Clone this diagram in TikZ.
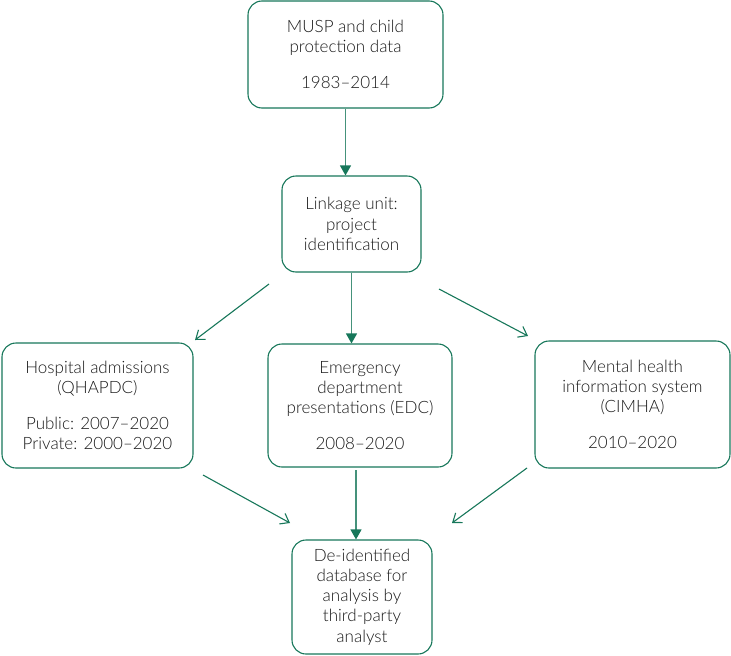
\documentclass[tikz,border=0pt]{standalone}
\usepackage{fontspec}
\setmainfont{Lato}[UprightFont={* Light}]
\usetikzlibrary{arrows.meta}
\definecolor{dg}{HTML}{17775A}
\begin{document}
\begin{tikzpicture}[x=1pt,y=-1pt,
  box/.style={draw=dg,line width=1.1pt,rounded corners=14pt,align=center,
    inner sep=0pt,font=\fontsize{17}{20.2}\selectfont,text=black!90},
  vline/.style={draw=dg!80,line width=1.2pt,-{Triangle[length=10pt,width=11pt,color=dg,fill=dg]}},
  dline/.style={draw=dg,line width=1.1pt,-{Straight Barb[length=8pt,width=12pt]}}]
\useasboundingbox (0,0) rectangle (731,656);
\node[box,minimum width=195pt,minimum height=107pt] (top) at (345.5,54.5)
  {MUSP and child\\protection data\\[16pt]1983--2014};
\node[box,minimum width=139pt,minimum height=96pt] (link) at (351.5,224)
  {Linkage unit:\\project\\identification};
\node[box,minimum width=191pt,minimum height=125pt] (left) at (97.5,405.5)
  {Hospital admissions\\(QHAPDC)\\[16pt]Public: 2007--2020\\Private: 2000--2020};
\node[box,minimum width=184pt,minimum height=123pt] (mid) at (360,405.5)
  {Emergency\\department\\presentations (EDC)\\[16pt]2008--2020};
\node[box,minimum width=195pt,minimum height=127pt] (right) at (632.5,404.5)
  {Mental health\\information system\\(CIMHA)\\[16pt]2010--2020};
\node[box,minimum width=140pt,minimum height=114pt] (bot) at (362,597)
  {De-identified\\database for\\analysis by\\third-party\\analyst};
\coordinate (a1s) at (269,284); \coordinate (a1e) at (195,340);
\coordinate (a2s) at (439,289); \coordinate (a2e) at (528,336);
\coordinate (b1s) at (203,475); \coordinate (b1e) at (290,523);
\coordinate (b2s) at (527,468); \coordinate (b2e) at (452,523);
\coordinate (v3) at (356,470);
\draw[vline] (top.south) -- (top.south |- link.north);
\draw[vline] (link.south) -- (link.south |- mid.north);
\draw[vline] (v3) -- (v3 |- bot.north);
\draw[dline] (a1s) -- (a1e);
\draw[dline] (a2s) -- (a2e);
\draw[dline] (b1s) -- (b1e);
\draw[dline] (b2s) -- (b2e);
\end{tikzpicture}
\end{document}
